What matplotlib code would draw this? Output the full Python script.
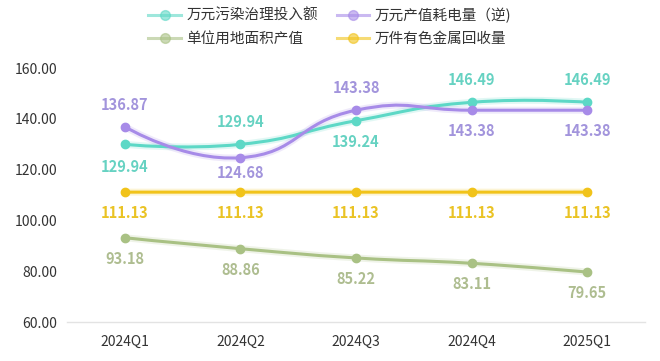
import numpy as np
import matplotlib
matplotlib.use('Agg')
from matplotlib import pyplot as plt
from matplotlib.path import Path
from matplotlib.patches import PathPatch
from matplotlib.lines import Line2D

plt.rcParams['font.family'] = ['Noto Sans CJK SC', 'DejaVu Sans']

# data
quarters = ['2024Q1', '2024Q2', '2024Q3', '2024Q4', '2025Q1']
pollution = [129.94, 129.94, 139.24, 146.49, 146.49]   # 万元污染治理投入额
power = [136.87, 124.68, 143.38, 143.38, 143.38]       # 万元产值耗电量（逆）
land = [93.18, 88.86, 85.22, 83.11, 79.65]             # 单位用地面积产值
metal = [111.13, 111.13, 111.13, 111.13, 111.13]       # 万件有色金属回收量
names = ['万元污染治理投入额', '万元产值耗电量（逆)', '单位用地面积产值', '万件有色金属回收量']

# styles
colors = ['#5dd8c6', '#a78be8', '#a9c184', '#f1c31a']
label_colors = ['#66d2c2', '#a294dc', '#aebd90', '#eac324']
# label offsets in pixels (+ above, - below)
offsets = [[-23, 22, -21, 22, 22],
           [22, -15, 22, -21, -21],
           [-21, -21, -21, -21, -21],
           [-21, -21, -21, -21, -21]]

fig = plt.figure(figsize=(6.6, 3.61), dpi=100)
ax = fig.add_axes([67/660, 1-322/361, (645-67)/660, (322-68)/361])
ax.set_xlim(-0.5, len(quarters) - 0.5)
ax.set_ylim(60, 160)


def smooth_curve(xs, ys, smooth=0.5):
    # echarts-like bezier smoothing in display space
    pts = ax.transData.transform(np.column_stack([xs, ys]))
    verts = [pts[0]]
    codes = [Path.MOVETO]
    cp0 = pts[0]
    for i in range(1, len(pts)):
        p = pts[i]
        prev = pts[i-1]
        if i + 1 < len(pts):
            nxt = pts[i+1]
            v = nxt - prev
            d0 = np.hypot(*(p - prev))
            d1 = np.hypot(*(nxt - p))
            r = d1 / (d0 + d1) if d0 + d1 > 0 else 0.5
            ncp = p - v * smooth * (1 - r)
        else:
            v = np.zeros(2)
            r = 0.5
            ncp = p
        verts += [cp0, ncp, p]
        codes += [Path.CURVE4] * 3
        cp0 = p + v * smooth * r
    verts = ax.transData.inverted().transform(np.array(verts))
    return Path(verts, codes)


x = np.arange(len(quarters))
series = [pollution, power, land, metal]
for s, c, lc, offs in zip(series, colors, label_colors, offsets):
    path = smooth_curve(x, s)
    ax.add_patch(PathPatch(path, fill=False, edgecolor=c, lw=5, alpha=0.18, zorder=2))
    ax.add_patch(PathPatch(path, fill=False, edgecolor=c, lw=2.2, zorder=3))
    ax.plot(x, s, 'o', color=c, markersize=6, zorder=4)
    for xi, yi, o in zip(x, s, offs):
        ax.annotate(f'{yi:.2f}', (xi, yi), xytext=(0, o * 0.72), textcoords='offset points',
                    ha='center', va='center', fontsize=10.5, fontweight='semibold', color=lc, zorder=5)

ax.set_xticks(x)
ax.set_xticklabels(quarters, fontsize=10, color='#333333')
ax.set_yticks(np.arange(60, 161, 20))
ax.set_yticklabels([f'{v:.2f}' for v in np.arange(60, 161, 20)], fontsize=10, color='#333333')
ax.tick_params(length=0)
ax.tick_params(axis='x', pad=9)
ax.tick_params(axis='y', pad=7)
for sp in ['top', 'right', 'left']:
    ax.spines[sp].set_visible(False)
ax.spines['bottom'].set_color('#e3e3e3')
ax.spines['bottom'].set_linewidth(1)

handles = [Line2D([0], [0], color=c, lw=2.2, alpha=0.6, marker='o', markersize=7,
                  markerfacecolor=c, markeredgecolor=c) for c in colors]
# matplotlib fills legend columns first, so reorder for row-wise layout
order = [0, 2, 1, 3]
fig.legend([handles[i] for i in order], [names[i] for i in order],
           loc='upper center', bbox_to_anchor=(0.5, 1.015), ncol=2,
           frameon=False, fontsize=10.5, handlelength=2.2, handletextpad=0.4,
           columnspacing=1.3, labelspacing=0.6, labelcolor='#333333')

fig.savefig('out.png', dpi=100, facecolor='white')
